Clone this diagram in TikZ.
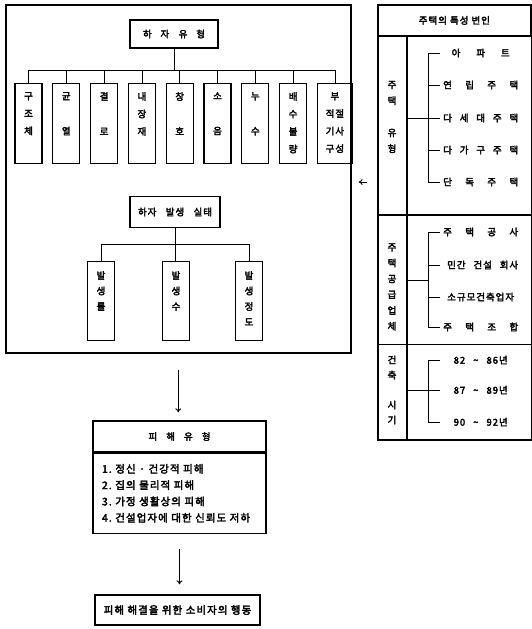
\documentclass[tikz,border=0pt]{standalone}
\usepackage{fontspec}
\setmainfont{Noto Sans CJK KR}[AutoFakeBold=3, LetterSpace=10]
\usetikzlibrary{arrows.meta, positioning}

\newcommand{\spread}[2]{\makebox[#1][s]{#2}}

\begin{document}
\begin{tikzpicture}[
    x=1pt, y=-1pt,
    font=\bfseries\fontsize{9.5}{11}\selectfont,
    >={To[length=4pt,width=6pt]},
    frame/.style={draw, line width=1.6pt, inner sep=0pt},
    box/.style={draw, line width=1.3pt, inner sep=0pt, align=center},
    colbox/.style={box, minimum width=27, minimum height=80, anchor=north},
    coltxt/.style={anchor=north, inner sep=0pt, yshift=-9pt, align=center,
        font=\bfseries\fontsize{9.5}{#1}\selectfont},
    vlabel/.style={inner sep=0pt, align=center,
        font=\bfseries\fontsize{9.5}{#1}\selectfont},
    cell/.style={draw, line width=0.8pt, inner sep=0pt, anchor=north west},
    item/.style={anchor=west, inner sep=0pt},
    link/.style={line width=0.8pt},
    arr/.style={->, line width=0.9pt}
]
\useasboundingbox (0,0) rectangle (531,629);

% defect types and occurrence
\node[frame, minimum width=345, minimum height=348, anchor=north west] (hazard) at (5,4) {};

\node[box, minimum width=88, minimum height=28] (types) at (174,34) {\spread{62pt}{하 자\quad 유 형}};

\node[colbox] (c1) at (28.5,83) {};
\node[colbox, right=9.5pt of c1] (c2) {};
\node[colbox, right=9.5pt of c2] (c3) {};
\node[colbox, right=9.5pt of c3] (c4) {};
\node[colbox, right=9.5pt of c4] (c5) {};
\node[colbox, right=9.5pt of c5] (c6) {};
\node[colbox, right=9.5pt of c6] (c7) {};
\node[colbox, right=9.5pt of c7] (c8) {};
\node[colbox, right=9.5pt of c8, minimum width=35] (c9) {};

\node[coltxt=17.5] (c1t) at (c1.north) {구\\조\\체};
\node[coltxt=17.5] (c2t) at (c2.north) {균\\[17.5pt]열};
\node[coltxt=17.5] (c3t) at (c3.north) {결\\[17.5pt]로};
\node[coltxt=17.5] (c4t) at (c4.north) {내\\장\\재};
\node[coltxt=17.5] (c5t) at (c5.north) {창\\[17.5pt]호};
\node[coltxt=17.5] (c6t) at (c6.north) {소\\[17.5pt]음};
\node[coltxt=17.5] (c7t) at (c7.north) {누\\[17.5pt]수};
\node[coltxt=17.5] (c8t) at (c8.north) {배\\수\\불\\량};
\node[coltxt=17.5] (c9t) at (c9.north) {부\\적절\\기사\\구성};

\coordinate (bus1) at (174,70);
\draw[link] (types.south) -- (bus1);
\draw[link] (c1.north) -- (c1.north |- bus1) -- (c9.north |- bus1) -- (c9.north);
\draw[link] (c2.north) -- (c2.north |- bus1) (c3.north) -- (c3.north |- bus1)
    (c4.north) -- (c4.north |- bus1) (c5.north) -- (c5.north |- bus1)
    (c6.north) -- (c6.north |- bus1) (c7.north) -- (c7.north |- bus1)
    (c8.north) -- (c8.north |- bus1);

\node[box, minimum width=90, minimum height=31] (occur) at (175,212) {\spread{74pt}{하자 발생 실태}};

\node[colbox, minimum height=79] (d1) at (101,261) {};
\node[colbox, minimum height=79] (d2) at (176,261) {};
\node[colbox, minimum height=79] (d3) at (249,261) {};

\node[coltxt=15.5, yshift=-1pt] (d1t) at (d1.north) {발\\생\\률};
\node[coltxt=15.5, yshift=-1pt] (d2t) at (d2.north) {발\\생\\수};
\node[coltxt=15.5, yshift=-1pt] (d3t) at (d3.north) {발\\생\\정\\도};

\coordinate (bus2) at (175,244);
\draw[link] (occur.south) -- (occur.south |- d2.north);
\draw[link] (d1.north) -- (d1.north |- bus2) -- (d3.north |- bus2) -- (d3.north);

% damage types
\node[box, minimum width=173, minimum height=31] (dmgt) at (179.5,436.5) {\spread{62pt}{피 해 유 형}};
\node[box, minimum width=173, minimum height=80, anchor=north, align=left, text width=155pt,
      font=\bfseries\fontsize{10.5}{16.3}\selectfont] (dmgb) at (dmgt.south) {
    1.~정신 · 건강적 피해\\
    2.~집의 물리적 피해\\
    3.~가정 생활상의 피해\\
    4.~건설업자에 대한 신뢰도 저하
};

\node[box, minimum width=165, minimum height=30, font=\bfseries\fontsize{10.5}{12}\selectfont] (act) at (177.5,610) {피해 해결을 위한 소비자의 행동};

\draw[arr, shorten <=16pt, shorten >=8pt] (hazard.south) -- (hazard.south |- dmgt.north);
\draw[arr, shorten <=15pt, shorten >=10pt] (dmgb.south) -- (dmgb.south |- act.north);

% housing variables
\node[cell, minimum width=152, minimum height=30] (hd) at (378,5) {주택의 특성 변인};
\node[cell, minimum width=28, minimum height=178] (r1) at (hd.south west) {};
\node[cell, minimum width=124, minimum height=178] (s1) at (r1.north east) {};
\node[cell, minimum width=28, minimum height=129] (r2) at (r1.south west) {};
\node[cell, minimum width=124, minimum height=129] (s2) at (r2.north east) {};
\node[cell, minimum width=28, minimum height=95] (r3) at (r2.south west) {};
\node[cell, minimum width=124, minimum height=95] (s3) at (r3.north east) {};
\draw[line width=1.6pt] (hd.north west) rectangle (s3.south east);

\node[vlabel=16] (r1t) at (392,117) {주\\택\\[16pt]유\\형};
\node[vlabel=15.8] (r2t) at (392,287) {주\\택\\공\\급\\업\\체};
\node[vlabel=15] (r3t) at (392,390) {건\\축\\[15pt]시\\기};

\node[item] (t11) at (443,53) {\makebox[75pt]{\spread{58pt}{아 파 트}}};
\node[item] (t12) at (443,85) {\spread{75pt}{연 립 주 택}};
\node[item] (t13) at (443,118) {\spread{75pt}{다 세 대 주 택}};
\node[item] (t14) at (443,150) {\spread{75pt}{다 가 구 주 택}};
\node[item] (t15) at (443,182) {\spread{75pt}{단 독 주 택}};

\draw[link] ([xshift=-3pt]t11.west) -- ([xshift=-15pt]t11.west) -- ([xshift=-15pt]t15.west) -- ([xshift=-3pt]t15.west);
\draw[link] ([xshift=-3pt]t12.west) -- ([xshift=-15pt]t12.west)
    ([xshift=-3pt]t13.west) -- ([xshift=-15pt]t13.west)
    ([xshift=-3pt]t14.west) -- ([xshift=-15pt]t14.west);
\draw[link] (r1.east |- t13.west) -- ([xshift=-15pt]t13.west);

\node[item] (t21) at (443,232) {\spread{75pt}{주 택 공 사}};
\node[item] (t22) at (443,265) {\makebox[75pt][r]{\spread{71pt}{민간 건설 회사}}};
\node[item] (t23) at (443,297) {\makebox[75pt]{소규모건축업자}};
\node[item] (t24) at (443,327) {\spread{75pt}{주 택 조 합}};

\coordinate (j2) at (428,280);
\draw[link] ([xshift=-3pt]t21.west) -- ([xshift=-15pt]t21.west) -- ([xshift=-15pt]t24.west) -- ([xshift=-3pt]t24.west);
\draw[link] ([xshift=-3pt]t22.west) -- ([xshift=-15pt]t22.west)
    ([xshift=-3pt]t23.west) -- ([xshift=-15pt]t23.west);
\draw[link] (r2.east |- j2) -- (j2);

\node[item] (t31) at (443,360) {\makebox[75pt]{\spread{54pt}{82 \textasciitilde\ 86년}}};
\node[item] (t32) at (443,390) {\makebox[75pt]{\spread{54pt}{87 \textasciitilde\ 89년}}};
\node[item] (t33) at (443,422) {\makebox[75pt]{\spread{54pt}{90 \textasciitilde\ 92년}}};

\draw[link] ([xshift=-3pt]t31.west) -- ([xshift=-15pt]t31.west) -- ([xshift=-15pt]t33.west) -- ([xshift=-3pt]t33.west);
\draw[link] (r3.east |- t32.west) -- ([xshift=-3pt]t32.west);

\draw[arr, shorten <=11pt, shorten >=7pt] (r1.west |- t15.west) -- (hazard.east |- t15.west);

\end{tikzpicture}
\end{document}
